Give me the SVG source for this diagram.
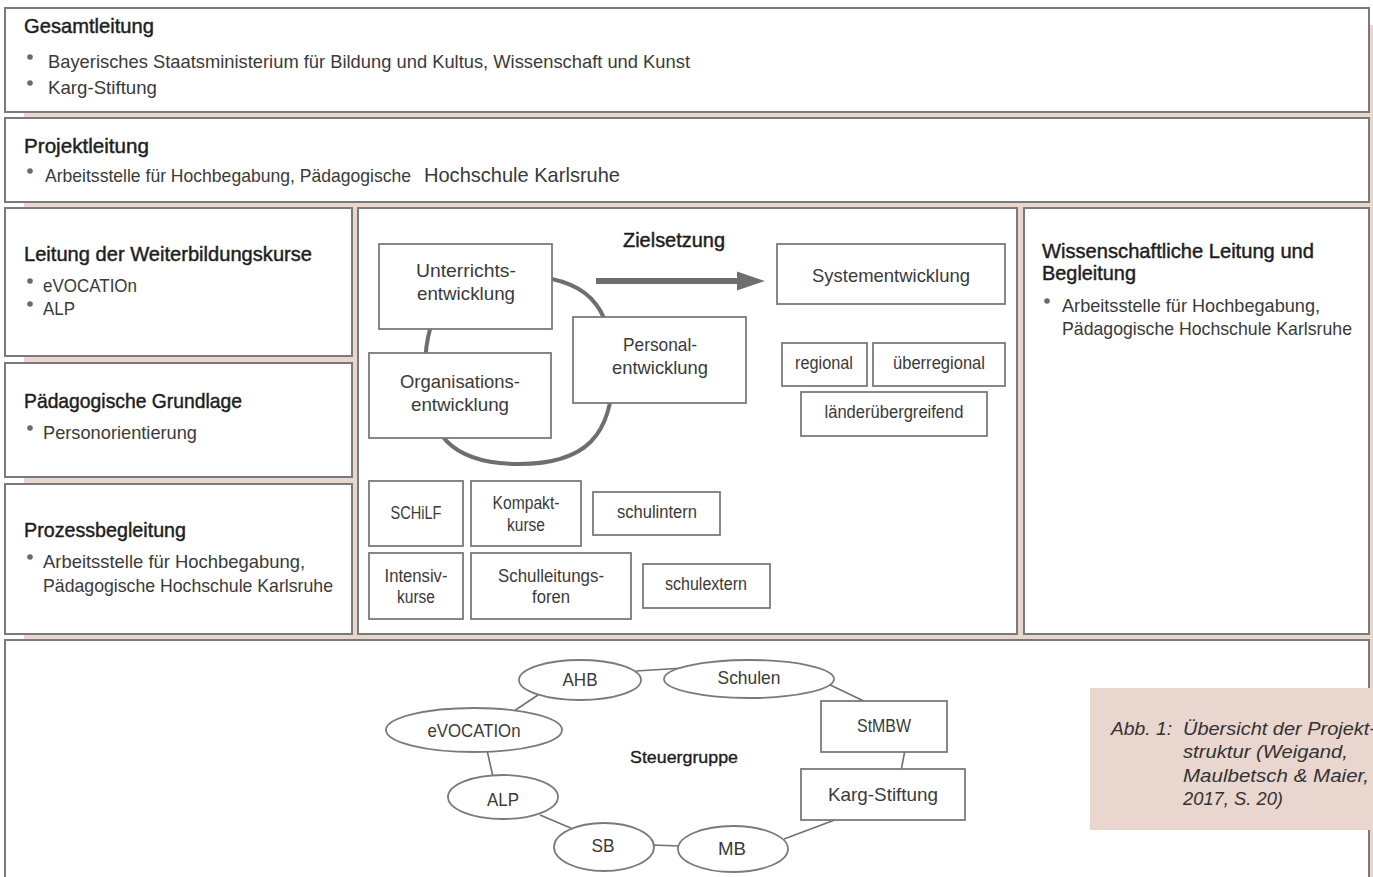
<svg xmlns="http://www.w3.org/2000/svg" width="1373" height="877" viewBox="0 0 1373 877">
<style>
.box{fill:#fff;stroke:#7a7a7a;stroke-width:2}
.ib{fill:#fff;stroke:#7a7a7a;stroke-width:1.8}
.t{font-family:"Liberation Sans",Arial,sans-serif;fill:#3a3a3a;font-size:19px}
.h{font-family:"Liberation Sans",Arial,sans-serif;fill:#1e1e1e;font-size:21px;stroke:#1e1e1e;stroke-width:0.45}
.c{font-family:"Liberation Sans",Arial,sans-serif;fill:#3a3a3a;font-size:18.5px;text-anchor:middle}
.cap{font-family:"Liberation Sans",Arial,sans-serif;fill:#333;font-size:19px;font-style:italic}
.dot{fill:#6a6a6a}
.ln{stroke:#707070;stroke-width:1.6;fill:none}
.ring{stroke:#6e6e6e;stroke-width:4;fill:none}
</style>
<rect x="24" y="25" width="1360" height="860" fill="#e9d6ce"/>

<g id="gesamtleitung">
<rect class="box" x="5" y="8" width="1364" height="104"/>
<text class="h" x="24" y="33" textLength="130" lengthAdjust="spacingAndGlyphs">Gesamtleitung</text>
<circle class="dot" cx="30" cy="57" r="2.8"/>
<text class="t" x="48" y="68" textLength="642" lengthAdjust="spacingAndGlyphs">Bayerisches Staatsministerium für Bildung und Kultus, Wissenschaft und Kunst</text>
<circle class="dot" cx="30" cy="83" r="2.8"/>
<text class="t" x="48" y="94" textLength="109" lengthAdjust="spacingAndGlyphs">Karg-Stiftung</text>
</g>

<g id="projektleitung">
<rect class="box" x="5" y="118" width="1364" height="84"/>
<text class="h" x="24" y="153" textLength="125" lengthAdjust="spacingAndGlyphs">Projektleitung</text>
<circle class="dot" cx="30" cy="171" r="2.8"/>
<text class="t" x="45" y="182" textLength="366" lengthAdjust="spacingAndGlyphs">Arbeitsstelle für Hochbegabung, Pädagogische</text>
<text class="t" x="424" y="182" style="font-size:21px" textLength="196" lengthAdjust="spacingAndGlyphs">Hochschule Karlsruhe</text>
</g>

<g id="weiterbildung">
<rect class="box" x="5" y="208" width="347" height="148"/>
<text class="h" x="24" y="261" textLength="288" lengthAdjust="spacingAndGlyphs">Leitung der Weiterbildungskurse</text>
<circle class="dot" cx="30" cy="281" r="2.8"/>
<text class="t" x="43" y="292" textLength="94" lengthAdjust="spacingAndGlyphs">eVOCATIOn</text>
<circle class="dot" cx="30" cy="304" r="2.8"/>
<text class="t" x="43" y="315" textLength="32" lengthAdjust="spacingAndGlyphs">ALP</text>
</g>

<g id="grundlage">
<rect class="box" x="5" y="363" width="347" height="114"/>
<text class="h" x="24" y="408" textLength="218" lengthAdjust="spacingAndGlyphs">Pädagogische Grundlage</text>
<circle class="dot" cx="30" cy="428" r="2.8"/>
<text class="t" x="43" y="439" textLength="154" lengthAdjust="spacingAndGlyphs">Personorientierung</text>
</g>

<g id="prozessbegleitung">
<rect class="box" x="5" y="484" width="347" height="150"/>
<text class="h" x="24" y="537" textLength="162" lengthAdjust="spacingAndGlyphs">Prozessbegleitung</text>
<circle class="dot" cx="30" cy="557" r="2.8"/>
<text class="t" x="43" y="568" textLength="262" lengthAdjust="spacingAndGlyphs">Arbeitsstelle für Hochbegabung,</text>
<text class="t" x="43" y="592" textLength="290" lengthAdjust="spacingAndGlyphs">Pädagogische Hochschule Karlsruhe</text>
</g>

<g id="zielsetzung">
<rect class="box" x="358" y="208" width="659" height="426"/>
<path class="ring" d="M519 276 C585 276 613 304 613 370 C613 436 585 464 519 464 C453 464 425 436 425 370 C425 304 453 276 519 276 Z"/>
<text class="h" x="674" y="247" text-anchor="middle" style="font-size:20px" textLength="102" lengthAdjust="spacingAndGlyphs">Zielsetzung</text>
</g>

<g id="wissenschaft">
<rect class="box" x="1024" y="208" width="345" height="426"/>
<text class="h" x="1042" y="258" textLength="272" lengthAdjust="spacingAndGlyphs">Wissenschaftliche Leitung und</text>
<text class="h" x="1042" y="280" textLength="94" lengthAdjust="spacingAndGlyphs">Begleitung</text>
<circle class="dot" cx="1047" cy="301" r="2.8"/>
<text class="t" x="1062" y="312" textLength="258" lengthAdjust="spacingAndGlyphs">Arbeitsstelle für Hochbegabung,</text>
<text class="t" x="1062" y="335" textLength="290" lengthAdjust="spacingAndGlyphs">Pädagogische Hochschule Karlsruhe</text>
</g>

<g id="steuergruppe">
<rect class="box" x="5" y="640" width="1364" height="260"/>
<text class="h" x="684" y="763" text-anchor="middle" style="font-size:17px;stroke-width:0.35" textLength="108" lengthAdjust="spacingAndGlyphs">Steuergruppe</text>
</g>

<g id="connectors">
<line x1="596" y1="281" x2="740" y2="281" stroke="#6e6e6e" stroke-width="6"/>
<polygon points="737,271.5 765,281 737,290.5" fill="#6e6e6e"/>
<line class="ln" x1="636" y1="671" x2="684" y2="668"/>
<line class="ln" x1="826" y1="683" x2="868" y2="703"/>
<line class="ln" x1="905" y1="750" x2="901" y2="771"/>
<line class="ln" x1="840" y1="818" x2="784" y2="839"/>
<line class="ln" x1="651" y1="845" x2="681" y2="846"/>
<line class="ln" x1="573" y1="829" x2="540" y2="815"/>
<line class="ln" x1="493" y1="777" x2="487" y2="750"/>
<line class="ln" x1="514" y1="711" x2="538" y2="695"/>
</g>

<g id="unterricht">
<rect class="ib" x="379" y="244" width="173" height="85"/>
<text class="c" x="466" y="277" textLength="100" lengthAdjust="spacingAndGlyphs">Unterrichts-</text>
<text class="c" x="466" y="300" textLength="98" lengthAdjust="spacingAndGlyphs">entwicklung</text>
</g>
<g id="personal">
<rect class="ib" x="573" y="317" width="173" height="86"/>
<text class="c" x="660" y="351" textLength="74" lengthAdjust="spacingAndGlyphs">Personal-</text>
<text class="c" x="660" y="374" textLength="96" lengthAdjust="spacingAndGlyphs">entwicklung</text>
</g>
<g id="organisation">
<rect class="ib" x="369" y="353" width="182" height="85"/>
<text class="c" x="460" y="388" textLength="120" lengthAdjust="spacingAndGlyphs">Organisations-</text>
<text class="c" x="460" y="411" textLength="98" lengthAdjust="spacingAndGlyphs">entwicklung</text>
</g>
<g id="system">
<rect class="ib" x="777" y="244" width="228" height="60"/>
<text class="c" x="891" y="282" textLength="158" lengthAdjust="spacingAndGlyphs">Systementwicklung</text>
</g>
<g id="regional">
<rect class="ib" x="782" y="343" width="85" height="43"/>
<text class="c" x="824" y="369" style="font-size:17.5px" textLength="58" lengthAdjust="spacingAndGlyphs">regional</text>
</g>
<g id="ueberregional">
<rect class="ib" x="873" y="343" width="132" height="43"/>
<text class="c" x="939" y="369" style="font-size:17.5px" textLength="92" lengthAdjust="spacingAndGlyphs">überregional</text>
</g>
<g id="laender">
<rect class="ib" x="801" y="392" width="186" height="44"/>
<text class="c" x="894" y="418" style="font-size:17.5px" textLength="139" lengthAdjust="spacingAndGlyphs">länderübergreifend</text>
</g>
<g id="schilf">
<rect class="ib" x="369" y="481" width="94" height="65"/>
<text class="c" x="416" y="519" style="font-size:17.5px" textLength="51" lengthAdjust="spacingAndGlyphs">SCHiLF</text>
</g>
<g id="kompakt">
<rect class="ib" x="471" y="481" width="110" height="65"/>
<text class="c" x="526" y="509" style="font-size:17.5px" textLength="67" lengthAdjust="spacingAndGlyphs">Kompakt-</text>
<text class="c" x="526" y="531" style="font-size:17.5px" textLength="38" lengthAdjust="spacingAndGlyphs">kurse</text>
</g>
<g id="schulintern">
<rect class="ib" x="593" y="492" width="127" height="43"/>
<text class="c" x="657" y="518" style="font-size:17.5px" textLength="80" lengthAdjust="spacingAndGlyphs">schulintern</text>
</g>
<g id="intensiv">
<rect class="ib" x="369" y="553" width="94" height="66"/>
<text class="c" x="416" y="582" style="font-size:17.5px" textLength="63" lengthAdjust="spacingAndGlyphs">Intensiv-</text>
<text class="c" x="416" y="603" style="font-size:17.5px" textLength="38" lengthAdjust="spacingAndGlyphs">kurse</text>
</g>
<g id="schulleitung">
<rect class="ib" x="471" y="553" width="160" height="66"/>
<text class="c" x="551" y="582" style="font-size:17.5px" textLength="106" lengthAdjust="spacingAndGlyphs">Schulleitungs-</text>
<text class="c" x="551" y="603" style="font-size:17.5px" textLength="38" lengthAdjust="spacingAndGlyphs">foren</text>
</g>
<g id="schulextern">
<rect class="ib" x="643" y="564" width="127" height="44"/>
<text class="c" x="706" y="590" style="font-size:17.5px" textLength="82" lengthAdjust="spacingAndGlyphs">schulextern</text>
</g>

<g id="ahb">
<ellipse class="ib" cx="580" cy="680" rx="61" ry="20"/>
<text class="c" x="580" y="686" textLength="35" lengthAdjust="spacingAndGlyphs">AHB</text>
</g>
<g id="schulen">
<ellipse class="ib" cx="749" cy="679" rx="85" ry="19"/>
<text class="c" x="749" y="684" textLength="63" lengthAdjust="spacingAndGlyphs">Schulen</text>
</g>
<g id="stmbw">
<rect class="ib" x="821" y="701" width="126" height="51"/>
<text class="c" x="884" y="732" textLength="54" lengthAdjust="spacingAndGlyphs">StMBW</text>
</g>
<g id="karg">
<rect class="ib" x="801" y="769" width="164" height="51"/>
<text class="c" x="883" y="801" textLength="110" lengthAdjust="spacingAndGlyphs">Karg-Stiftung</text>
</g>
<g id="evocation">
<ellipse class="ib" cx="474" cy="730" rx="88" ry="22"/>
<text class="c" x="474" y="737" textLength="93" lengthAdjust="spacingAndGlyphs">eVOCATIOn</text>
</g>
<g id="alp">
<ellipse class="ib" cx="503" cy="797" rx="55" ry="22"/>
<text class="c" x="503" y="806" textLength="32" lengthAdjust="spacingAndGlyphs">ALP</text>
</g>
<g id="sb">
<ellipse class="ib" cx="604" cy="847" rx="50" ry="24"/>
<text class="c" x="603" y="852" textLength="23" lengthAdjust="spacingAndGlyphs">SB</text>
</g>
<g id="mb">
<ellipse class="ib" cx="733" cy="849" rx="55" ry="23"/>
<text class="c" x="732" y="855" textLength="28" lengthAdjust="spacingAndGlyphs">MB</text>
</g>

<g id="caption">
<rect x="1090" y="688" width="290" height="142" fill="#e9d6ce"/>
<text class="cap" x="1111" y="735" textLength="61" lengthAdjust="spacingAndGlyphs">Abb. 1:</text>
<text class="cap" x="1183" y="735" textLength="193" lengthAdjust="spacingAndGlyphs">Übersicht der Projekt-</text>
<text class="cap" x="1183" y="758" textLength="165" lengthAdjust="spacingAndGlyphs">struktur (Weigand,</text>
<text class="cap" x="1183" y="782" textLength="186" lengthAdjust="spacingAndGlyphs">Maulbetsch &amp; Maier,</text>
<text class="cap" x="1183" y="805" textLength="100" lengthAdjust="spacingAndGlyphs">2017, S. 20)</text>
</g>
</svg>
